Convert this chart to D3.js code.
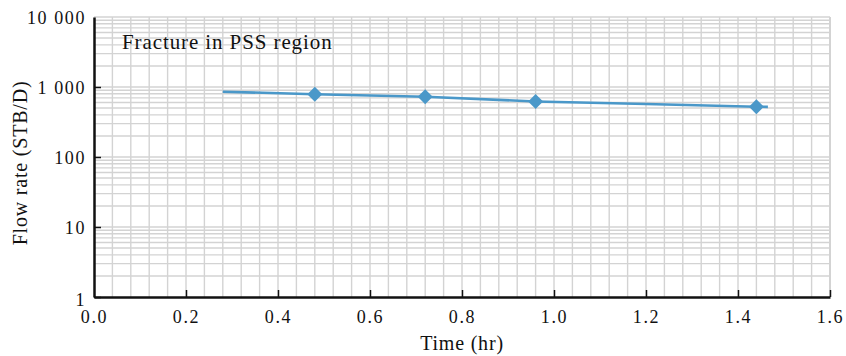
<!DOCTYPE html>
<html>
  <head>
    <meta charset="utf-8">
    <title>Flow rate vs time</title>
    <script src="https://cdnjs.cloudflare.com/ajax/libs/d3/7.8.5/d3.min.js"></script>
    <style>
      body { margin: 0; background: #fff; }
      text { font-family: "Liberation Serif", "Times New Roman", serif; fill: #111; }
    </style>
  </head>
  <body>

    <script>
      // measured points (diamonds)
      var pointTimes = [0.48, 0.72, 0.96, 1.44];
      var pointRates = [787, 727, 620, 523];

      // fitted line
      var lineTimes = [0.28, 0.48, 0.72, 0.96, 1.2, 1.44, 1.465];
      var lineRates = [857, 787, 727, 622, 572, 523, 520];

      var xTicks = [0, 0.2, 0.4, 0.6, 0.8, 1.0, 1.2, 1.4, 1.6];
      var yTicks = [1, 10, 100, 1000, 10000];
      var yTickLabels = ["1", "10", "100", "1 000", "10 000"];

      var W = 846, H = 356;
      var m = {left: 94, right: 16, top: 17, bottom: 59};
      var w = W - m.left - m.right, h = H - m.top - m.bottom;
      var blue = "#4a98c9";

      var svg = d3.select("body").append("svg")
        .attr("width", W)
        .attr("height", H);

      var g = svg.append("g").attr("transform", "translate(" + m.left + "," + m.top + ")");

      var x = d3.scaleLinear().domain([0, 1.6]).range([0, w]);
      var y = d3.scaleLog().domain([1, 10000]).range([h, 0]);

      // grid
      var vGrid = d3.range(1, 41).map(function (i){ return i * 0.04; });
      var hGrid = [];
      [1, 10, 100, 1000].forEach(function (d){
        for (var k = 2; k <= 10; k++) hGrid.push(d * k);
      });

      g.append("g").selectAll("line").data(hGrid).enter().append("line")
        .attr("x1", 0).attr("x2", w)
        .attr("y1", function (d){ return y(d); })
        .attr("y2", function (d){ return y(d); })
        .attr("stroke", "#d3d3d3").attr("stroke-width", 1.4);

      g.append("g").selectAll("line").data(vGrid).enter().append("line")
        .attr("y1", 0).attr("y2", h)
        .attr("x1", function (d){ return x(d); })
        .attr("x2", function (d){ return x(d); })
        .attr("stroke", "#d3d3d3")
        .attr("stroke-width", function (d, i){ return i == vGrid.length - 1 ? 2 : 1.4; });

      // axes
      var xAxis = d3.axisBottom(x).tickValues(xTicks)
        .tickSizeInner(-7).tickSizeOuter(0).tickPadding(14)
        .tickFormat(d3.format(".1f"));
      var gx = g.append("g").attr("transform", "translate(0," + h + ")").call(xAxis);

      var yAxis = d3.axisLeft(y).tickValues(yTicks)
        .tickSizeInner(-7).tickSizeOuter(0).tickPadding(8)
        .tickFormat(function (d, i){ return yTickLabels[i]; });
      var gy = g.append("g").call(yAxis);

      [gx, gy].forEach(function (a){
        a.select(".domain").attr("stroke", "#111").attr("stroke-width", 2.5);
        a.selectAll(".tick line").attr("stroke", "#111").attr("stroke-width", 1.5);
        a.selectAll(".tick text")
          .style("font-family", "'Liberation Serif', serif")
          .style("font-size", "18px")
          .style("letter-spacing", "1.6px")
          .attr("fill", "#111");
      });
      gx.selectAll(".tick text").attr("dy", "0.71em").attr("y", 13);
      gy.selectAll(".tick text").attr("dy", "0.34em");
      gy.selectAll(".tick").filter(function (d){ return d === 1; }).select("text").attr("dy", "0.45em");
      gy.selectAll(".tick").filter(function (d){ return d === 10000; }).select("line").remove();
      gx.selectAll(".tick").filter(function (d){ return d === 0; }).select("line").remove();

      // line
      var lineData = lineTimes.map(function (t, i){ return [t, lineRates[i]]; });
      g.append("path")
        .datum(lineData)
        .attr("d", d3.line()
          .x(function (d){ return x(d[0]); })
          .y(function (d){ return y(d[1]); }))
        .attr("fill", "none")
        .attr("stroke", blue)
        .attr("stroke-width", 2.6);

      // diamonds
      var sym = d3.symbol().type(d3.symbolSquare).size(112);
      g.append("g").selectAll("path").data(pointTimes).enter().append("path")
        .attr("d", sym)
        .attr("transform", function (d, i){
          return "translate(" + x(d) + "," + y(pointRates[i]) + ") rotate(45)";
        })
        .attr("fill", blue);

      // labels
      svg.append("text")
        .attr("x", 122).attr("y", 49)
        .style("font-size", "21px")
        .style("letter-spacing", "0.9px")
        .text("Fracture in PSS region");

      svg.append("text")
        .attr("x", m.left + w / 2).attr("y", 350)
        .attr("text-anchor", "middle")
        .style("font-size", "20px")
        .style("letter-spacing", "0.8px")
        .text("Time (hr)");

      svg.append("text")
        .attr("transform", "translate(27,163) rotate(-90)")
        .attr("text-anchor", "middle")
        .style("font-size", "20px")
        .style("letter-spacing", "0.8px")
        .text("Flow rate (STB/D)");
    </script>

  </body>
</html>
